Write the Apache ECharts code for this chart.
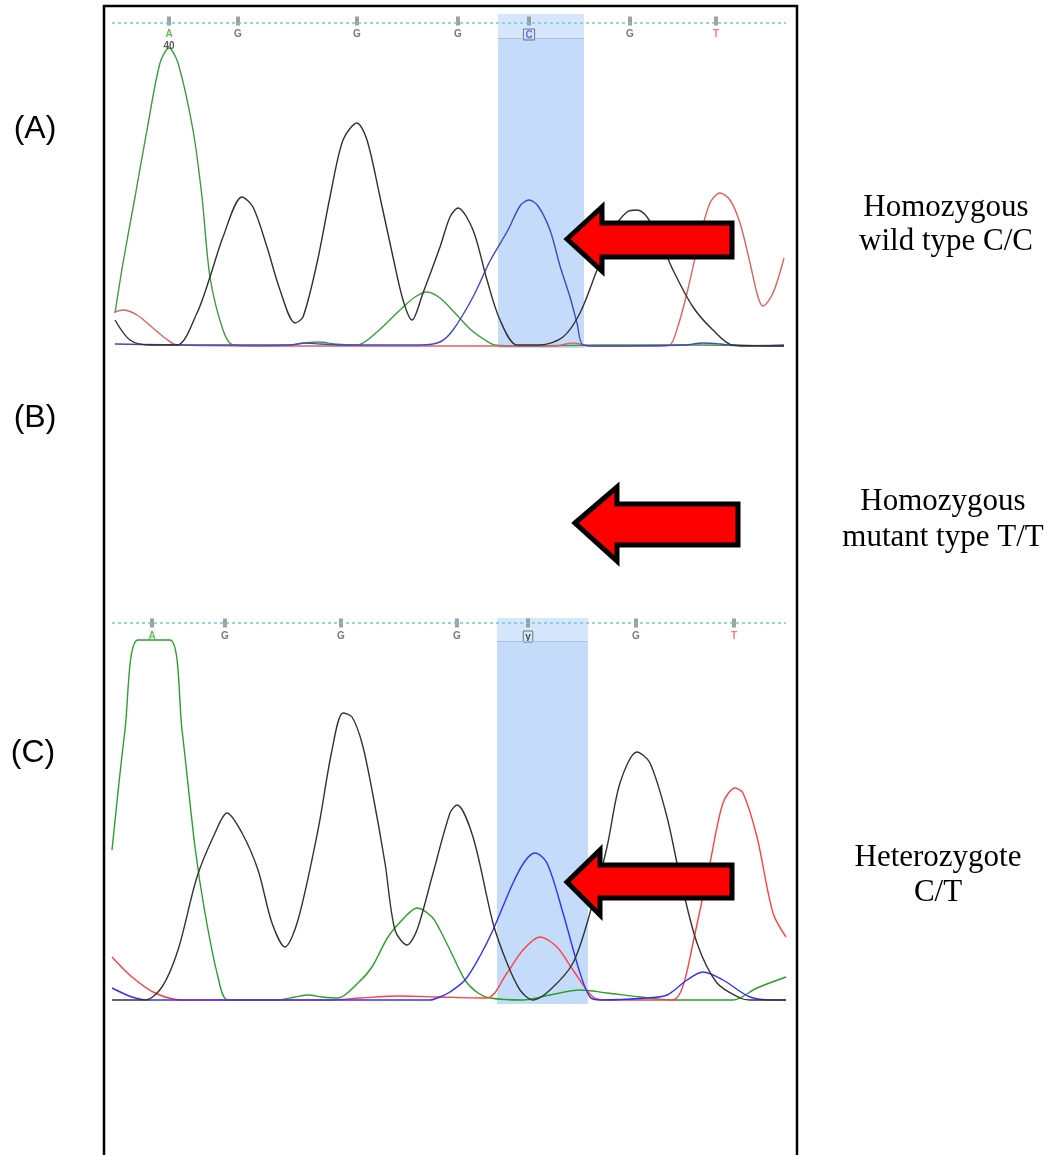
<!DOCTYPE html>
<html>
<head>
<meta charset="utf-8">
<script src="https://cdn.jsdelivr.net/npm/echarts@6/dist/echarts.min.js"></script>
<style>
html,body{margin:0;padding:0;background:#fff;}
#chart{width:1047px;height:1155px;}
</style>
</head>
<body>
<div id="chart"></div>
<script>
// ---- Panel A (homozygous wild type) : [scan position, signal height] ----
var greenA = [[115,33],[123,83],[135,149],[147,216],[160,283],[169,298],[178,283],[193,216],[202,149],[210,69],[223,16],[233,1],[260,0],[290,1],[305,3],[319,4],[335,2],[357,1],[377,14],[400,36],[415,49],[427,54],[440,48],[455,33],[470,17],[485,6],[495,1],[520,0],[600,1],[700,1],[784,0]];
var blackA = [[115,26],[130,6],[150,1],[177,1],[197,33],[210,69],[223,109],[242,149],[253,139],[267,99],[280,56],[295,23],[303,29],[317,83],[330,149],[343,206],[357,223],[367,206],[380,149],[393,89],[403,46],[412,26],[423,53],[440,99],[450,129],[458,138],[473,116],[487,66],[500,26],[517,1],[540,1],[563,9],[580,33],[597,76],[613,116],[627,134],[637,136],[647,129],[660,106],[673,76],[693,39],[713,16],[733,1],[784,0]];
var blueA = [[115,2],[200,1],[290,1],[305,3],[320,2],[340,1],[420,1],[440,4],[453,16],[473,49],[490,85],[508,116],[520,140],[529,146],[538,140],[550,116],[560,80],[570,49],[577,23],[583,1],[600,0],[685,1],[703,3],[720,2],[740,0],[784,1]];
var redA = [[115,34],[123,36],[137,31],[153,18],[165,8],[177,1],[300,0],[450,0],[555,0],[573,3],[590,0],[660,0],[670,1],[678,20],[687,53],[700,109],[710,143],[720,153],[730,146],[740,123],[750,83],[758,49],[763,40],[773,53],[784,88]];

// ---- Panel C (heterozygote) ----
var greenC = [[112,151],[125,271],[138,361],[170,361],[182,271],[195,154],[205,88],[218,24],[228,1],[278,1],[295,4],[308,6],[322,4],[338,3],[358,18],[372,34],[388,64],[405,84],[417,93],[432,84],[440,71],[450,51],[465,21],[478,8],[490,3],[523,1],[550,6],[580,11],[607,8],[640,4],[673,1],[733,1],[757,13],[786,24]];
var blackC = [[112,1],[145,1],[162,14],[178,51],[197,124],[215,168],[227,188],[242,168],[258,131],[272,78],[285,54],[298,81],[318,171],[332,251],[343,288],[352,284],[362,258],[372,211],[385,138],[395,71],[407,56],[417,71],[432,124],[450,188],[457,196],[473,164],[493,78],[507,38],[520,11],[533,1],[550,11],[573,38],[590,88],[607,154],[620,218],[637,249],[650,238],[667,184],[680,124],[697,58],[717,18],[740,3],[750,1],[786,1]];
var blueC = [[112,13],[132,4],[148,1],[430,1],[440,4],[450,9],[465,21],[480,45],[493,71],[513,118],[525,140],[535,148],[547,138],[563,88],[580,28],[590,4],[600,1],[647,3],[667,6],[687,21],[703,29],[723,21],[750,4],[773,1],[786,1]];
var redC = [[112,44],[132,24],[155,8],[182,1],[330,1],[360,3],[400,5],[440,4],[487,3],[507,28],[523,51],[540,64],[557,54],[573,31],[593,4],[607,1],[673,1],[683,15],[693,58],[710,138],[723,198],[735,213],[743,208],[757,164],[773,88],[786,64]];

// ---- base calls ----
var basePosA = [169,238,357,458,529,630,716];
var baseLetA = ['A','G','G','G','C','G','T'];
var baseQualA = ['40','','','','','',''];
var basePosC = [152,225,341,457,528,636,734];
var baseLetC = ['A','G','G','G','y','G','T'];
var baseQualC = ['','','','','','',''];

// highlighted base window
var bandA = [498,584];
var bandC = [497,588];

var letterColor = {A:'#3aa83a',G:'#555555',C:'#3355dd',T:'#ff5555',y:'#222222'};

function baseData(pos, lets, quals, yv){
  return pos.map(function(x,i){
    var boxed = (lets[i]==='C'||lets[i]==='y');
    return {
      value:[x,yv],
      label:{
        show:true, position:'bottom', distance:3,
        formatter: quals[i] ? '{l|'+lets[i]+'}\n{q|'+quals[i]+'}' : '{l|'+lets[i]+'}',
        rich:{
          l:{color:letterColor[lets[i]], fontSize:10, fontWeight:'bold', fontFamily:'Liberation Sans',
             borderColor: boxed?'#555':'transparent', borderWidth: boxed?1:0, padding: boxed?[1,2,0,2]:0, lineHeight:12},
          q:{color:'#333', fontSize:10, fontWeight:'bold', fontFamily:'Liberation Sans', lineHeight:11}
        }
      }
    };
  });
}

function trace(data, color, gi){
  return {type:'line', xAxisIndex:gi, yAxisIndex:gi, data:data, smooth:0.3, showSymbol:false, symbol:'none',
          lineStyle:{color:color, width:1.4}, z:3, silent:true, animation:false};
}

function bandSeries(gi, band, top, headerBottom){
  return {type:'line', xAxisIndex:gi, yAxisIndex:gi, data:[[band[0],0]], showSymbol:false, symbol:'none',
    lineStyle:{width:0}, z:1, silent:true, animation:false,
    markArea:{silent:true, data:[
      [{coord:[band[0],-3], itemStyle:{color:'#c4dcfa'}},{coord:[band[1],top]}],
      [{coord:[band[0],headerBottom], itemStyle:{color:'#d6e7fc'}},{coord:[band[1],top]}]
    ]},
    markLine:{silent:true, symbol:'none', label:{show:false}, lineStyle:{color:'#a6c2e6', width:1, type:'solid'},
      data:[[{coord:[band[0],headerBottom]},{coord:[band[1],headerBottom]}]]}
  };
}

function tickSeries(gi, pos, lets, quals, yv, lineY){
  return {type:'scatter', xAxisIndex:gi, yAxisIndex:gi, data:baseData(pos,lets,quals,yv),
    symbol:'rect', symbolSize:[4,9], itemStyle:{color:'#8a8a8a'}, z:4, silent:true, animation:false,
    markLine:{silent:true, symbol:'none', label:{show:false}, lineStyle:{color:'#6ccbd8', width:1.5, type:[3,3]},
      data:[{yAxis:lineY}]}
  };
}

var chart = echarts.init(document.getElementById('chart'), null, {renderer:'canvas'});
var option = {
  backgroundColor:'#ffffff',
  animation:false,
  grid:[
    {left:112, top:14, width:674, height:334},
    {left:112, top:618, width:674, height:386}
  ],
  xAxis:[
    {gridIndex:0, type:'value', min:112, max:786, show:false},
    {gridIndex:1, type:'value', min:112, max:786, show:false}
  ],
  yAxis:[
    {gridIndex:0, type:'value', min:-2, max:332, show:false},
    {gridIndex:1, type:'value', min:-3, max:383, show:false}
  ],
  series:[
    bandSeries(0, bandA, 332, 308),
    bandSeries(1, bandC, 383, 360),
    trace(greenA,'#3c9c3c',0), trace(redA,'#e06060',0), trace(blueA,'#4646c2',0), trace(blackA,'#303030',0),
    trace(greenC,'#2aa02a',1), trace(redC,'#ff4040',1), trace(blueC,'#3030ff',1), trace(blackC,'#333333',1),
    tickSeries(0, basePosA, baseLetA, baseQualA, 325, 323),
    tickSeries(1, basePosC, baseLetC, baseQualC, 378, 378)
  ],
  graphic:[
    {type:'rect', shape:{x:104, y:6, width:693, height:1170}, style:{fill:'none', stroke:'#000', lineWidth:2.5}, z:10, silent:true},
    {type:'polygon', shape:{points:[[567,239],[602,207],[602,223],[732,223],[732,257],[602,257],[602,271]]},
      style:{fill:'#ff0000', stroke:'#000', lineWidth:5, lineJoin:'miter'}, z:20, silent:true},
    {type:'polygon', shape:{points:[[575,523],[617,487],[617,504],[738,504],[738,545],[617,545],[617,561]]},
      style:{fill:'#ff0000', stroke:'#000', lineWidth:5, lineJoin:'miter'}, z:20, silent:true},
    {type:'polygon', shape:{points:[[567,882],[600,850],[600,865],[732,865],[732,898],[600,898],[600,915]]},
      style:{fill:'#ff0000', stroke:'#000', lineWidth:5, lineJoin:'miter'}, z:20, silent:true},
    {type:'text', style:{text:'(A)', x:35, y:129, font:'32px "Liberation Sans"', fill:'#000', align:'center', verticalAlign:'middle'}, z:20},
    {type:'text', style:{text:'(B)', x:35, y:418, font:'32px "Liberation Sans"', fill:'#000', align:'center', verticalAlign:'middle'}, z:20},
    {type:'text', style:{text:'(C)', x:33, y:753, font:'32px "Liberation Sans"', fill:'#000', align:'center', verticalAlign:'middle'}, z:20},
    {type:'text', style:{text:'Homozygous', x:946, y:208, font:'31px "Liberation Serif"', fill:'#000', align:'center', verticalAlign:'middle'}, z:20},
    {type:'text', style:{text:'wild type C/C', x:946, y:242, font:'31px "Liberation Serif"', fill:'#000', align:'center', verticalAlign:'middle'}, z:20},
    {type:'text', style:{text:'Homozygous', x:943, y:502, font:'31px "Liberation Serif"', fill:'#000', align:'center', verticalAlign:'middle'}, z:20},
    {type:'text', style:{text:'mutant type T/T', x:943, y:538, font:'31px "Liberation Serif"', fill:'#000', align:'center', verticalAlign:'middle'}, z:20},
    {type:'text', style:{text:'Heterozygote', x:938, y:858, font:'31px "Liberation Serif"', fill:'#000', align:'center', verticalAlign:'middle'}, z:20},
    {type:'text', style:{text:'C/T', x:938, y:893, font:'31px "Liberation Serif"', fill:'#000', align:'center', verticalAlign:'middle'}, z:20}
  ]
};
chart.setOption(option);
</script>
</body>
</html>
